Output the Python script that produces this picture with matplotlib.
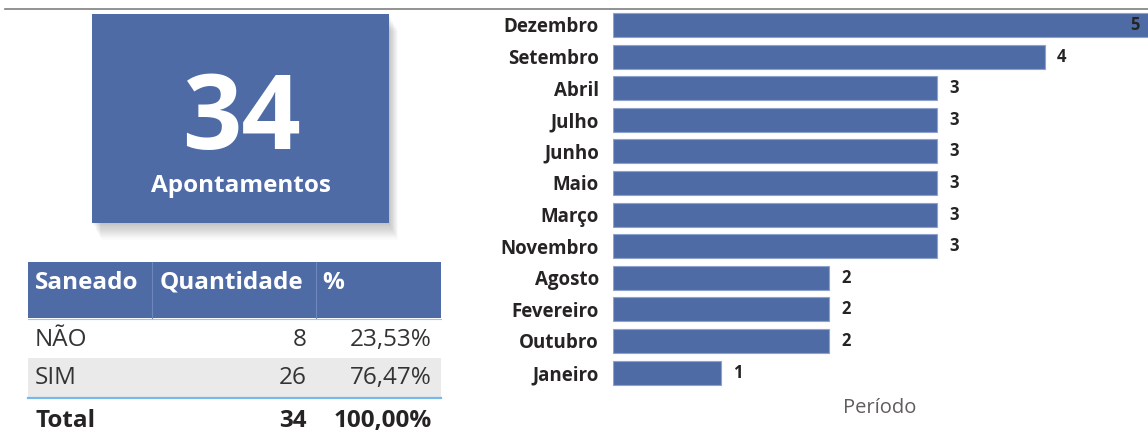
import matplotlib
matplotlib.use("Agg")
import matplotlib.pyplot as plt
from matplotlib.patches import Rectangle

plt.rcParams['font.family'] = ['Open Sans', 'DejaVu Sans']

# Data
meses = ['Dezembro', 'Setembro', 'Abril', 'Julho', 'Junho', 'Maio',
         'Março', 'Novembro', 'Agosto', 'Fevereiro', 'Outubro', 'Janeiro']
qtd = [5, 4, 3, 3, 3, 3, 3, 3, 2, 2, 2, 1]

total_apont = 34
card_label = 'Apontamentos'

colunas = ['Saneado', 'Quantidade', '%']
saneado = ['NÃO', 'SIM']
saneado_qtd = [8, 26]
saneado_pct = ['23,53%', '76,47%']
total_pct = '100,00%'

AZUL = '#4E6BA6'
W, H = 1148, 432

fig = plt.figure(figsize=(W / 100, H / 100), dpi=100)

# background axes in pixel coords (y down)
bg = fig.add_axes([0, 0, 1, 1])
bg.set_xlim(0, W)
bg.set_ylim(H, 0)
bg.axis('off')

# top separator line
bg.plot([5, W], [9, 9], color='#7f7f7f', lw=1.2)

# card with soft shadow
for i in range(1, 16):
    bg.add_patch(Rectangle((92 + i * 0.6, 14 + i * 1.1), 297, 209,
                           color='k', alpha=0.016, lw=0))
bg.add_patch(Rectangle((92, 14), 297, 209, color=AZUL, lw=0))
bg.text(241, 122, str(total_apont), color='white', fontsize=75,
        fontweight='bold', ha='center', va='center')
bg.text(241, 186, card_label, color='white', fontsize=17.5,
        fontweight='bold', ha='center', va='center')

# table
tx0, tx1 = 28, 441
fs = 17.5
bg.add_patch(Rectangle((tx0, 262), tx1 - tx0, 56, color=AZUL, lw=0))
for xs in [152, 316]:
    bg.plot([xs, xs], [262, 318], color='#6F88BB', lw=0.8)
bg.plot([tx0, tx1], [318.5, 318.5], color='#9CC9F0', lw=0.8)
hx = [35, 160, 322]
for x, c in zip(hx, colunas):
    bg.text(x, 283, c, color='white', fontsize=fs, fontweight='bold',
            ha='left', va='center')

row_y = [340, 378]
for k, (nome, q, p) in enumerate(zip(saneado, saneado_qtd, saneado_pct)):
    y = row_y[k]
    if k % 2 == 1:
        bg.add_patch(Rectangle((tx0, y - 20), tx1 - tx0, 39,
                               color='#EAEAEA', lw=0))
    bg.text(35, y, nome, color='#333333', fontsize=fs, ha='left', va='center')
    bg.text(307, y, str(q), color='#333333', fontsize=fs, ha='right', va='center')
    bg.text(432, y, p, color='#333333', fontsize=fs, ha='right', va='center')
bg.plot([tx0, tx1], [398, 398], color='#76B7EC', lw=1.6)
bg.text(35, 421, 'Total', color='#252423', fontsize=fs, fontweight='bold',
        ha='left', va='center')
bg.text(307, 421, str(sum(saneado_qtd)), color='#252423', fontsize=fs,
        fontweight='bold', ha='right', va='center')
bg.text(432, 421, total_pct, color='#252423', fontsize=fs,
        fontweight='bold', ha='right', va='center')

# bar chart
px_unit = 108.0
step = 31.6
top = 25 - step / 2
ax = fig.add_axes([613 / W, 1 - (top + 12 * step) / H,
                   (W - 613) / W, 12 * step / H])
ypos = list(range(len(meses)))
ax.barh(ypos, qtd, height=0.76, color=AZUL, edgecolor='#8DA2CC', lw=0.8)
xmax = (W - 613) / px_unit
ax.set_xlim(0, xmax)
ax.set_ylim(len(meses) - 0.5, -0.5)
ax.set_yticks(ypos)
ax.set_yticklabels(meses, fontsize=13.5, fontweight='bold', color='#252423')
ax.tick_params(axis='y', length=0, pad=10)
ax.set_xticks([])
for s in ax.spines.values():
    s.set_visible(False)
ax.patch.set_alpha(0)

for y, v in zip(ypos, qtd):
    if v + 20 / px_unit > xmax:
        ax.text(xmax - 8 / px_unit, y, str(v), ha='right', va='center',
                fontsize=12, fontweight='bold', color='#252423')
    else:
        ax.text(v + 12 / px_unit, y, str(v), ha='left', va='center',
                fontsize=12, fontweight='bold', color='#252423')

bg.text(880, 408, 'Período', color='#605E5C', fontsize=14.5,
        ha='center', va='center')

fig.savefig('out.png', dpi=100)
